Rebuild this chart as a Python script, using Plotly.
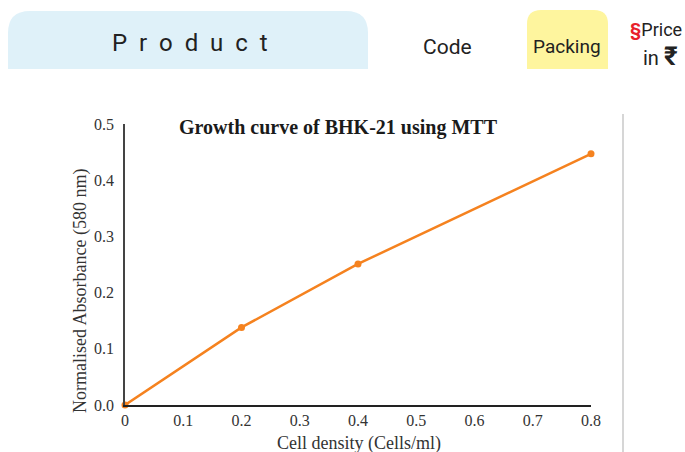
import plotly.graph_objects as go

# Growth curve data
cell_density = [0, 0.2, 0.4, 0.8]
absorbance = [0.0, 0.138, 0.251, 0.447]
x_ticks = [0, 0.1, 0.2, 0.3, 0.4, 0.5, 0.6, 0.7, 0.8]
x_tick_text = ["0", "0.1", "0.2", "0.3", "0.4", "0.5", "0.6", "0.7", "0.8"]
y_ticks = [0, 0.1, 0.2, 0.3, 0.4, 0.5]
y_tick_text = ["0.0", "0.1", "0.2", "0.3", "0.4", "0.5"]

W, H = 685, 452
L, R, T, B = 125, 94, 124, 47
PW, PH = W - L - R, H - T - B


def px(x):
    return (x - L) / PW


def py(y):
    return (H - B - y) / PH


def top_rounded(x0, y0, x1, y1, r):
    # rectangle with rounded top corners, pixel coords converted to paper
    pts = [
        f"M {px(x0)},{py(y1)}",
        f"L {px(x0)},{py(y0 + r)}",
        f"Q {px(x0)},{py(y0)} {px(x0 + r)},{py(y0)}",
        f"L {px(x1 - r)},{py(y0)}",
        f"Q {px(x1)},{py(y0)} {px(x1)},{py(y0 + r)}",
        f"L {px(x1)},{py(y1)}",
        "Z",
    ]
    return " ".join(pts)


fig = go.Figure()
fig.add_trace(go.Scatter(
    x=cell_density, y=absorbance, mode="lines+markers",
    line=dict(color="#F5821F", width=2.5),
    marker=dict(color="#F5821F", size=7),
    cliponaxis=False, showlegend=False,
))

serif = "Liberation Serif"
sans = "Roboto, sans-serif"

fig.update_layout(
    width=W, height=H,
    margin=dict(l=L, r=R, t=T, b=B, autoexpand=False),
    paper_bgcolor="white", plot_bgcolor="white",
    font=dict(family=serif, color="#333"),
    xaxis=dict(
        range=[0, 0.8], tickvals=x_ticks, ticktext=x_tick_text,
        showgrid=False, zeroline=False, showline=True, linecolor="#222",
        linewidth=1.5, ticks="", tickfont=dict(size=16, family=serif, color="#333"),
        ticklabelstandoff=0, automargin=False,
    ),
    yaxis=dict(
        range=[0, 0.5], tickvals=y_ticks, ticktext=y_tick_text,
        showgrid=False, zeroline=False, showline=True, linecolor="#444",
        linewidth=1.5, ticks="", tickfont=dict(size=16, family=serif, color="#333"),
        ticklabelstandoff=6, automargin=False,
    ),
    shapes=[
        dict(type="path", xref="paper", yref="paper",
             path=top_rounded(8, 11, 368, 69, 22),
             fillcolor="#DFF1F9", line=dict(width=0), layer="below"),
        dict(type="path", xref="paper", yref="paper",
             path=top_rounded(527, 10, 608, 69, 14),
             fillcolor="#FEF59E", line=dict(width=0), layer="below"),
        dict(type="line", xref="paper", yref="paper",
             x0=px(623), x1=px(623), y0=py(114), y1=py(452),
             line=dict(color="#C8C8C8", width=1.5)),
    ],
    annotations=[
        dict(text="<b>Growth curve of BHK-21 using MTT</b>", xref="paper", yref="paper",
             x=px(338), y=py(128), xanchor="center", yanchor="middle",
             showarrow=False, font=dict(size=20, family=serif, color="#1a1a1a")),
        dict(text="Cell density (Cells/ml)", xref="paper", yref="paper",
             x=px(359), y=py(443), xanchor="center", yanchor="middle",
             showarrow=False, font=dict(size=18, family=serif, color="#333")),
        dict(text="Normalised Absorbance (580 nm)", xref="paper", yref="paper",
             x=px(80), y=py(291), xanchor="center", yanchor="middle", textangle=-90,
             showarrow=False, font=dict(size=18, family=serif, color="#333")),
        dict(text="P  r  o  d  u  c  t", xref="paper", yref="paper",
             x=px(190), y=py(43), xanchor="center", yanchor="middle",
             showarrow=False, font=dict(size=24, family=sans, color="#222")),
        dict(text="Code", xref="paper", yref="paper",
             x=px(447), y=py(47), xanchor="center", yanchor="middle",
             showarrow=False, font=dict(size=21, family=sans, color="#222")),
        dict(text="Packing", xref="paper", yref="paper",
             x=px(567), y=py(46), xanchor="center", yanchor="middle",
             showarrow=False, font=dict(size=19, family=sans, color="#222")),
        dict(text="<span style='color:#E8202A'><b>§</b></span>Price", xref="paper", yref="paper",
             x=px(656), y=py(30), xanchor="center", yanchor="middle",
             showarrow=False, font=dict(size=18, family=sans, color="#222")),
        dict(text="in <span style='font-size:26px'><b>₹</b></span>", xref="paper", yref="paper",
             x=px(660), y=py(56), xanchor="center", yanchor="middle",
             showarrow=False, font=dict(size=20, family=sans, color="#222")),
    ],
)

fig.write_html("out.html")
